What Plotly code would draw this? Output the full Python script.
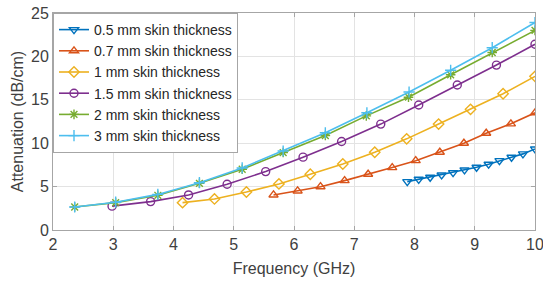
import plotly.graph_objects as go

names = ["0.5 mm skin thickness", "0.7 mm skin thickness", "1 mm skin thickness",
         "1.5 mm skin thickness", "2 mm skin thickness", "3 mm skin thickness"]

f_05 = [7.88, 8.07, 8.26, 8.45, 8.64, 8.83, 9.03, 9.23, 9.41, 9.61, 9.80, 10.0]
a_05 = [5.57, 5.84, 6.08, 6.34, 6.61, 6.92, 7.23, 7.58, 7.99, 8.38, 8.77, 9.34]

f_07 = [5.66, 6.06, 6.44, 6.84, 7.23, 7.63, 8.02, 8.42, 8.82, 9.19, 9.60, 10.0]
a_07 = [4.04, 4.50, 4.99, 5.69, 6.42, 7.19, 7.99, 8.96, 10.0, 11.15, 12.23, 13.5]

f_1 = [4.15, 4.68, 5.21, 5.75, 6.27, 6.81, 7.34, 7.87, 8.40, 8.93, 9.47, 10.0]
a_1 = [3.15, 3.58, 4.38, 5.31, 6.42, 7.61, 8.96, 10.5, 12.2, 13.9, 15.7, 17.7]

f_15 = [2.98, 3.62, 4.25, 4.89, 5.53, 6.15, 6.79, 7.44, 8.07, 8.71, 9.36, 10.0]
a_15 = [2.75, 3.27, 4.04, 5.27, 6.73, 8.39, 10.2, 12.2, 14.4, 16.7, 19.0, 21.4]

f_2 = [2.36, 3.04, 3.74, 4.43, 5.14, 5.82, 6.52, 7.20, 7.90, 8.60, 9.29, 10.0]
a_2 = [2.65, 3.15, 4.0, 5.38, 7.0, 8.92, 10.88, 13.15, 15.3, 17.88, 20.45, 23.0]

f_3 = [2.36, 3.04, 3.74, 4.43, 5.14, 5.82, 6.52, 7.21, 7.91, 8.60, 9.29, 10.0]
a_3 = [2.65, 3.2, 4.1, 5.45, 7.15, 9.1, 11.2, 13.5, 15.9, 18.4, 21.0, 23.9]

xs = [f_05, f_07, f_1, f_15, f_2, f_3]
ys = [a_05, a_07, a_1, a_15, a_2, a_3]
colors = ["#0072BD", "#D95319", "#EDB120", "#7E2F8E", "#77AC30", "#4DBEEE"]
symbols = ["triangle-down-open", "triangle-up-open", "diamond-open", "circle-open",
           "asterisk-open", "cross-thin-open"]

fig = go.Figure()
for x, y, n, c, s in zip(xs, ys, names, colors, symbols):
    fig.add_trace(go.Scatter(
        x=x, y=y, name=n, mode="lines+markers",
        line=dict(color=c, width=1.6),
        marker=dict(symbol=s, size=8, color=c, line=dict(color=c, width=1.4)),
    ))

axis_common = dict(
    showgrid=True, gridcolor="#e3e3e3", gridwidth=1,
    showline=True, linecolor="#a6a6a6", linewidth=1, mirror="ticks",
    ticks="inside", ticklen=4, tickcolor="#a6a6a6",
    tickfont=dict(family="Liberation Sans, Arial, sans-serif", size=16, color="#404040"),
    zeroline=False, automargin=False, ticklabeloverflow="allow",
)

fig.update_layout(
    width=543, height=283,
    margin=dict(l=53, r=8, t=13, b=53),
    paper_bgcolor="white", plot_bgcolor="white",
    font=dict(family="Liberation Sans, Arial, sans-serif", color="#404040"),
    xaxis=dict(range=[2, 10], tickvals=[2, 3, 4, 5, 6, 7, 8, 9, 10],
               title=dict(text="Frequency (GHz)", font=dict(size=16, color="#404040"), standoff=10),
               **axis_common),
    yaxis=dict(range=[0, 25], tickvals=[0, 5, 10, 15, 20, 25],
               title=dict(text="Attenuation (dB/cm)", font=dict(size=16, color="#404040"), standoff=3),
               **axis_common),
    legend=dict(x=0.0, y=1.0, xanchor="left", yanchor="top",
                bgcolor="white", bordercolor="#a6a6a6", borderwidth=1,
                font=dict(size=14, color="#262626"), tracegroupgap=0,
                itemwidth=30),
    showlegend=True,
)

fig.write_html("out.html",
               config={"displayModeBar": False},
               post_script="document.body.style.margin='0';document.body.style.overflow='hidden';")
